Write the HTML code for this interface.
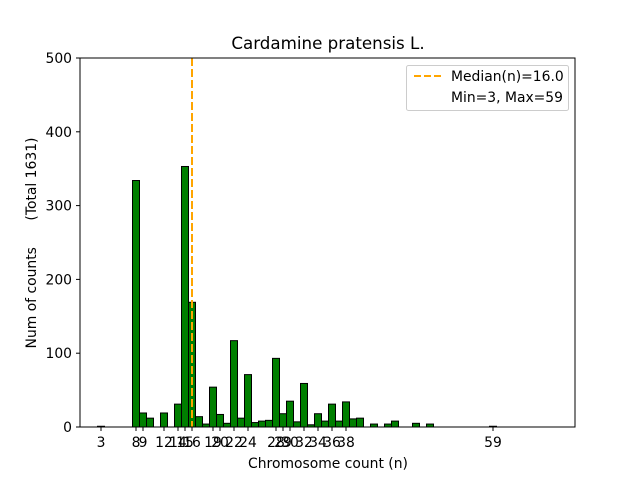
<!DOCTYPE html>
<html><head><meta charset="utf-8"><style>body{margin:0;background:#fff}svg{display:block}text{font-family:"DejaVu Sans",sans-serif;fill:#000}</style></head>
<body>
<svg width="640" height="480" viewBox="0 0 640 480" xmlns="http://www.w3.org/2000/svg">
<rect width="640" height="480" fill="#fff"/>
<g id="bars" fill="#007f00" stroke="#000" stroke-width="1"></g>
<line x1="192" y1="58" x2="192" y2="427" stroke="#ffa500" stroke-width="2" stroke-dasharray="8,3"/>
<rect x="80" y="58" width="495" height="369" fill="none" stroke="#000" stroke-width="1"/>
<g id="yt" font-size="13.9" text-anchor="end"></g>
<g id="xt" font-size="13.9" text-anchor="middle"></g>
<text x="328" y="49" font-size="16.7" text-anchor="middle">Cardamine pratensis L.</text>
<text x="328" y="468" font-size="13.9" text-anchor="middle">Chromosome count (n)</text>
<text transform="translate(36,243) rotate(-90)" font-size="13.9" text-anchor="middle">Num of counts&#160;&#160;&#160;&#160;&#160;&#160;(Total 1631)</text>
<rect x="406.5" y="65.5" width="162" height="45" rx="2" fill="#fff" fill-opacity="0.8" stroke="#ccc"/>
<line x1="414" y1="76" x2="442" y2="76" stroke="#ffa500" stroke-width="2" stroke-dasharray="7,3"/>
<text x="451" y="81" font-size="13.9">Median(n)=16.0</text>
<text x="451" y="102" font-size="13.9">Min=3, Max=59</text>
</svg>
<script>
var d={3:1,8:334,9:19,10:12,12:19,14:31,15:353,16:169,17:14,18:4,19:54,20:17,21:5,22:117,23:12,24:71,25:6,26:8,27:9,28:93,29:18,30:35,31:7,32:59,33:3,34:18,35:8,36:31,37:8,38:34,39:11,40:12,42:4,44:4,45:8,48:5,50:4,59:1};
var s=369/500,b=document.getElementById('bars'),h='';
for(var k in d){var x=80+7*k-3.5,hh=d[k]*s;h+='<rect x="'+x+'" y="'+(427-hh)+'" width="7" height="'+hh+'"/>';}
b.innerHTML=h;
var y='';for(var v=0;v<=500;v+=100){var yy=427-v*s;y+='<line x1="76" y1="'+yy+'" x2="80" y2="'+yy+'" stroke="#000"/><text x="72" y="'+(yy+5)+'">'+v+'</text>';}
document.getElementById('yt').innerHTML=y;
var t=[3,8,9,12,14,15,16,19,20,22,24,28,29,30,32,34,36,38,59],xs='';
t.forEach(function(n){var x=80+7*n;xs+='<line x1="'+x+'" y1="427" x2="'+x+'" y2="431" stroke="#000"/><text x="'+x+'" y="447">'+n+'</text>';});
document.getElementById('xt').innerHTML=xs;
</script>
</body></html>
